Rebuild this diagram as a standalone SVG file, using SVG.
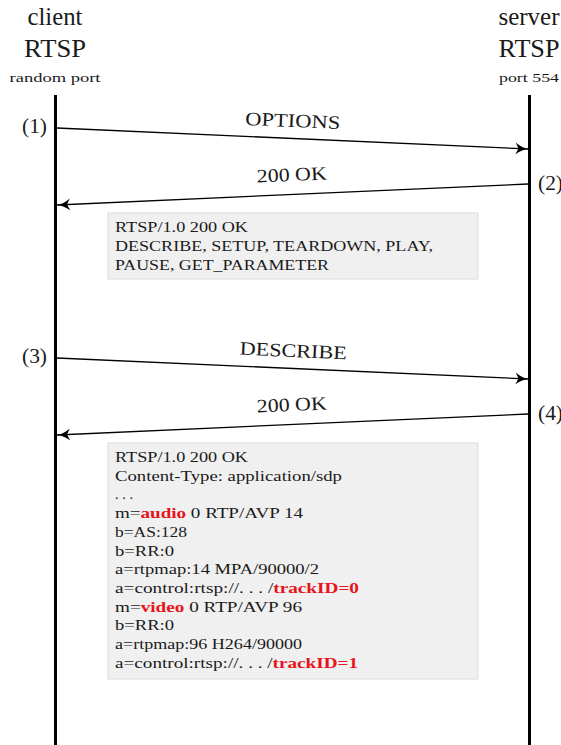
<svg xmlns="http://www.w3.org/2000/svg" width="561" height="745" viewBox="0 0 561 745">
<defs>
<style>
text{font-family:"Liberation Serif","DejaVu Serif",serif;fill:#1a1a1a}
.h{font-size:25px;text-anchor:middle}
.p{font-size:13px;text-anchor:middle}
.n{font-size:20px}
.lbl{font-size:19px;text-anchor:middle}
.b{font-size:14.5px}
.r{fill:#e8141b;font-weight:bold}
.life{stroke:#000;stroke-width:3}
.msg{stroke:#000;stroke-width:1.3;fill:none;marker-end:url(#ah)}
.box{fill:#f0f0f0;stroke:#dcdcdc;stroke-width:1}
</style>
<marker id="ah" markerWidth="14" markerHeight="12" refX="13" refY="6" orient="auto" markerUnits="userSpaceOnUse">
<path d="M0,0 Q6,5 13,6 Q6,7 0,12 L3,6 Z" fill="#000"/>
</marker>
</defs>
<g id="client">
<text class="h" x="55" y="25" textLength="55" lengthAdjust="spacingAndGlyphs">client</text>
<text class="h" x="55" y="57" textLength="62" lengthAdjust="spacingAndGlyphs">RTSP</text>
<text class="p" x="55" y="82" textLength="91" lengthAdjust="spacingAndGlyphs">random port</text>
<line class="life" x1="55.5" y1="95" x2="55.5" y2="745"/>
</g>
<g id="server">
<text class="h" x="529" y="25" textLength="61" lengthAdjust="spacingAndGlyphs">server</text>
<text class="h" x="529" y="57" textLength="61" lengthAdjust="spacingAndGlyphs">RTSP</text>
<text class="p" x="529" y="82" textLength="60" lengthAdjust="spacingAndGlyphs">port 554</text>
<line class="life" x1="529.5" y1="95" x2="529.5" y2="745"/>
</g>
<g id="connectors">
<line class="msg" x1="57" y1="128" x2="528.5" y2="149"/>
<line class="msg" x1="528" y1="184" x2="57" y2="205"/>
<line class="msg" x1="57" y1="358" x2="528.5" y2="379"/>
<line class="msg" x1="528" y1="414" x2="57" y2="435"/>
</g>
<g id="labels">
<text class="n" x="22" y="133" textLength="25" lengthAdjust="spacingAndGlyphs">(1)</text>
<text class="n" x="538" y="190" textLength="25" lengthAdjust="spacingAndGlyphs">(2)</text>
<text class="n" x="22" y="363" textLength="25" lengthAdjust="spacingAndGlyphs">(3)</text>
<text class="n" x="538" y="420" textLength="25" lengthAdjust="spacingAndGlyphs">(4)</text>
<text class="lbl" transform="translate(292.5,127) rotate(2.55)" textLength="95" lengthAdjust="spacingAndGlyphs">OPTIONS</text>
<text class="lbl" transform="translate(292,181) rotate(-2.55)" textLength="70" lengthAdjust="spacingAndGlyphs">200 OK</text>
<text class="lbl" transform="translate(293,357) rotate(2.55)" textLength="107" lengthAdjust="spacingAndGlyphs">DESCRIBE</text>
<text class="lbl" transform="translate(292,411) rotate(-2.55)" textLength="70" lengthAdjust="spacingAndGlyphs">200 OK</text>
</g>
<g id="box1">
<rect class="box" x="108" y="213" width="370" height="66"/>
<text class="b" x="115" y="232" textLength="133" lengthAdjust="spacingAndGlyphs">RTSP/1.0 200 OK</text>
<text class="b" x="115" y="251" textLength="318" lengthAdjust="spacingAndGlyphs">DESCRIBE, SETUP, TEARDOWN, PLAY,</text>
<text class="b" x="115" y="270" textLength="214" lengthAdjust="spacingAndGlyphs">PAUSE, GET_PARAMETER</text>
</g>
<g id="box2">
<rect class="box" x="108" y="443" width="370" height="236"/>
<text class="b" x="115" y="462" textLength="133" lengthAdjust="spacingAndGlyphs">RTSP/1.0 200 OK</text>
<text class="b" x="115" y="480.7" textLength="227" lengthAdjust="spacingAndGlyphs">Content-Type:  application/sdp</text>
<text class="b" x="115" y="499.4" textLength="18" lengthAdjust="spacingAndGlyphs">. . .</text>
<text class="b" x="115" y="518.1" textLength="188" lengthAdjust="spacingAndGlyphs">m=<tspan class="r">audio</tspan> 0 RTP/AVP 14</text>
<text class="b" x="115" y="536.8" textLength="72" lengthAdjust="spacingAndGlyphs">b=AS:128</text>
<text class="b" x="115" y="555.5" textLength="59" lengthAdjust="spacingAndGlyphs">b=RR:0</text>
<text class="b" x="115" y="574.2" textLength="204" lengthAdjust="spacingAndGlyphs">a=rtpmap:14 MPA/90000/2</text>
<text class="b" x="115" y="592.9" textLength="244" lengthAdjust="spacingAndGlyphs">a=control:rtsp://. . . /<tspan class="r">trackID=0</tspan></text>
<text class="b" x="115" y="611.6" textLength="187" lengthAdjust="spacingAndGlyphs">m=<tspan class="r">video</tspan> 0 RTP/AVP 96</text>
<text class="b" x="115" y="630.3" textLength="59" lengthAdjust="spacingAndGlyphs">b=RR:0</text>
<text class="b" x="115" y="649" textLength="187" lengthAdjust="spacingAndGlyphs">a=rtpmap:96 H264/90000</text>
<text class="b" x="115" y="667.7" textLength="243" lengthAdjust="spacingAndGlyphs">a=control:rtsp://. . . /<tspan class="r">trackID=1</tspan></text>
</g>
</svg>
